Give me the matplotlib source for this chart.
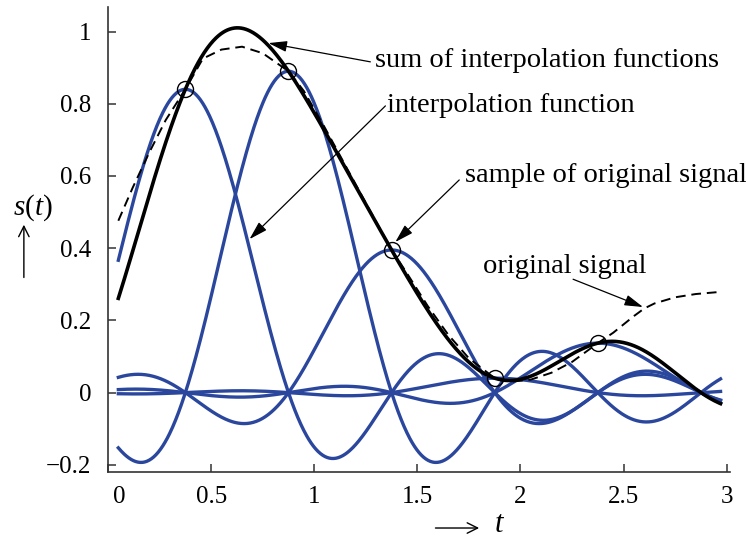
import numpy as np
import matplotlib
matplotlib.use("Agg")
import matplotlib.pyplot as plt
from matplotlib.transforms import ScaledTranslation

# samples of the original signal (spacing T = 0.5)
T = 0.5
sample_t = [0.375, 0.875, 1.375, 1.875, 2.375]
sample_s = [0.84, 0.89, 0.395, 0.04, 0.137]

# original signal
orig_t = [0.05, 0.12, 0.2, 0.28, 0.375, 0.46, 0.55, 0.65, 0.75, 0.875,
          0.95, 1.05, 1.15, 1.25, 1.375, 1.45, 1.55, 1.65, 1.75, 1.875,
          1.95, 2.05, 2.15, 2.25, 2.375, 2.45, 2.55, 2.6, 2.65, 2.75,
          2.85, 2.97]
orig_s = [0.476, 0.568, 0.665, 0.755, 0.84, 0.925, 0.95, 0.958, 0.94, 0.89,
          0.835, 0.735, 0.63, 0.525, 0.395, 0.33, 0.24, 0.16, 0.095, 0.04,
          0.03, 0.036, 0.055, 0.085, 0.137, 0.166, 0.212, 0.233, 0.247, 0.264,
          0.273, 0.279]

xticks = [0, 0.5, 1, 1.5, 2, 2.5, 3]
xlabels = ["0", "0.5", "1", "1.5", "2", "2.5", "3"]
yticks = [-0.2, 0, 0.2, 0.4, 0.6, 0.8, 1.0]
ylabels = ["\u22120.2", "0", "0.2", "0.4", "0.6", "0.8", "1"]

plt.rcParams['font.family'] = ['Liberation Serif', 'DejaVu Serif']
plt.rcParams['mathtext.fontset'] = 'custom'
plt.rcParams['mathtext.rm'] = 'Liberation Serif'
plt.rcParams['mathtext.it'] = 'Liberation Serif:italic'

blue = '#2a479d'

fig = plt.figure(figsize=(7.46, 5.40), dpi=100)
ax = fig.add_axes([0.1448, 0.1265, 0.8338, 0.8606])

t = np.linspace(0.05, 2.97, 800)
parts = [s * np.sinc((t - tk) / T) for tk, s in zip(sample_t, sample_s)]
for p in parts:
    ax.plot(t, p, color=blue, lw=2.4)
ax.plot(orig_t, orig_s, color='black', lw=1.4, dashes=(5, 3))
ax.plot(t, np.sum(parts, axis=0), color='black', lw=2.6)
ax.plot(sample_t, sample_s, 'o', ms=11.5, mfc='none', mec='black', mew=1.0)

# annotations
arrow = dict(arrowstyle='-|>,head_length=0.75,head_width=0.22', color='black',
             lw=0.9, mutation_scale=15, shrinkA=0, shrinkB=0)
fs = 20.5
ax.annotate('', xy=(0.778, 0.968), xytext=(1.272, 0.916), arrowprops=arrow)
ax.text(1.296, 0.902, 'sum of interpolation functions', fontsize=fs, va='baseline')
ax.annotate('', xy=(0.686, 0.425), xytext=(1.345, 0.794), arrowprops=arrow)
ax.text(1.354, 0.777, 'interpolation function', fontsize=fs, va='baseline')
ax.annotate('', xy=(1.393, 0.417), xytext=(1.703, 0.589), arrowprops=arrow)
ax.text(1.732, 0.583, 'sample of original signal', fontsize=fs, va='baseline')
ax.annotate('', xy=(2.594, 0.237), xytext=(2.255, 0.314), arrowprops=arrow)
ax.text(1.819, 0.331, 'original signal', fontsize=fs, va='baseline')

ax.set_xlim(0.002, 3.016)
ax.set_ylim(-0.219, 1.068)
ax.set_xticks(xticks)
ax.set_xticklabels(xlabels)
ax.set_yticks(yticks)
ax.set_yticklabels(ylabels)
ax.tick_params(direction='in', length=6, width=1.1, labelsize=18, color='#333333')
ax.tick_params(axis='x', pad=10)
ax.tick_params(axis='y', pad=12)
for side in ['top', 'right']:
    ax.spines[side].set_visible(False)
for side in ['left', 'bottom']:
    ax.spines[side].set_linewidth(1.2)
    ax.spines[side].set_color('#333333')

# the "0" on the t axis sits a bit to the right of the spine
lab0 = ax.xaxis.get_major_ticks()[0].label1
lab0.set_transform(lab0.get_transform() + ScaledTranslation(0.115, 0, fig.dpi_scale_trans))

# axis labels with arrows
fig.text(0.044, 0.615, '$s(t)$', fontsize=21, ha='center', va='center')
fig.patches.append(matplotlib.patches.FancyArrowPatch(
    (0.032, 0.481), (0.032, 0.589), transform=fig.transFigure,
    arrowstyle='->,head_length=0.5,head_width=0.25', mutation_scale=15,
    lw=1.0, color='black'))
fig.patches.append(matplotlib.patches.FancyArrowPatch(
    (0.580, 0.0222), (0.646, 0.0222), transform=fig.transFigure,
    arrowstyle='->,head_length=0.5,head_width=0.25', mutation_scale=15,
    lw=1.0, color='black'))
fig.text(0.670, 0.028, '$t$', fontsize=22, ha='center', va='center')

fig.savefig('out.png', dpi=100)
